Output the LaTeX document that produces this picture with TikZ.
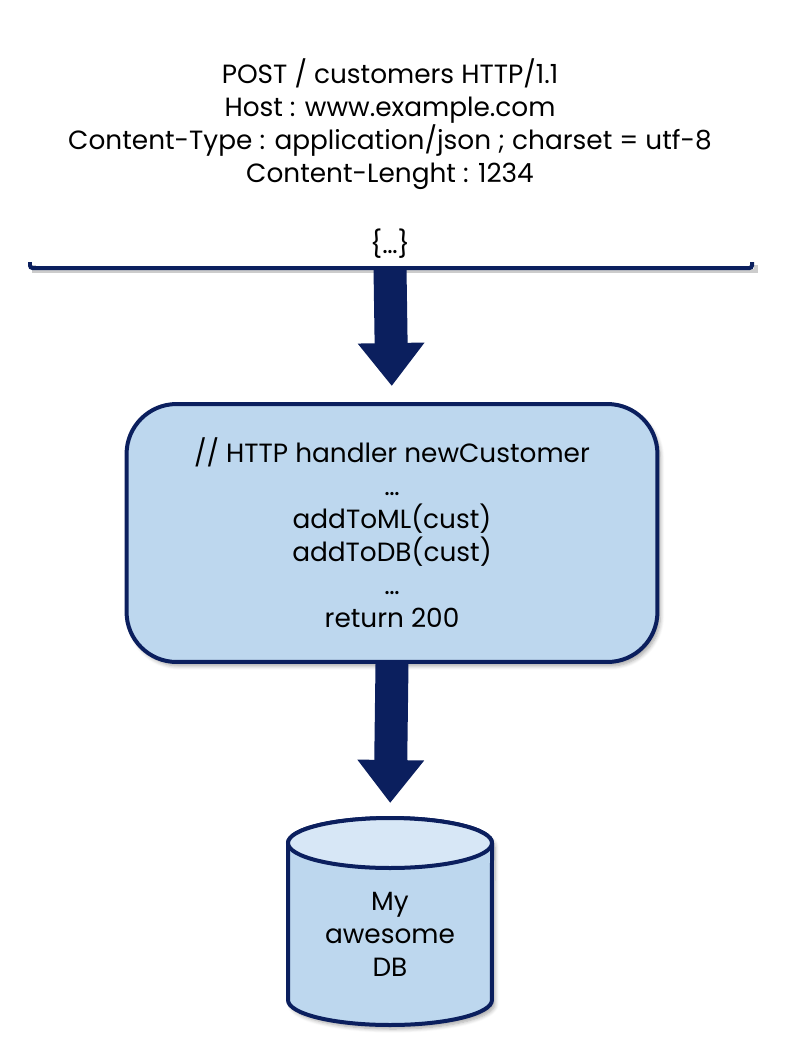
\documentclass[tikz,border=0pt]{standalone}
\usepackage{fontspec}
\setmainfont{Poppins}
\usepackage{xcolor}
\usepackage{tikz}
\usetikzlibrary{arrows.meta,positioning,calc,shadows.blur}

\definecolor{navy}{HTML}{0B1F5E}
\definecolor{boxblue}{HTML}{BDD7EE}
\definecolor{topblue}{HTML}{D7E7F6}

\begin{document}
\begin{tikzpicture}[x=0.02cm, y=-0.02cm,
    txt/.style={align=center, font=\fontsize{15}{18.8}\selectfont},
    soft/.style={blur shadow={shadow xshift=0.6mm, shadow yshift=-0.8mm, shadow opacity=35, shadow blur steps=6}},
    outline/.style={draw=navy, line width=0.08cm},
    handler/.style={outline, fill=boxblue, rounded corners=1cm,
        minimum width=10.62cm, minimum height=5.16cm, txt, soft},
    flow/.style={-{Triangle[width=1.28cm, length=0.86cm]}, line width=0.66cm, draw=navy}]

    \useasboundingbox (0,0) rectangle (800,1062);

    % Database drum
    \draw[outline, fill=boxblue, soft] (288,843) -- (288,1000)
        arc[start angle=180, end angle=360, x radius=2.04cm, y radius=0.5cm] -- (492,843)
        arc[start angle=0, end angle=180, x radius=2.04cm, y radius=0.5cm] -- cycle;
    \draw[outline, fill=topblue] (390,843) ellipse [x radius=2.04cm, y radius=0.5cm];
    \coordinate (dbtop) at (390,818);

    % Nodes
    \node[txt] (request) at (390,124) {POST / customers HTTP/1.1\\Host : www.example.com\\Content-Type : application/json ; charset = utf-8\\Content-Lenght : 1234};
    \node[txt] (payload) at (390,244) {\{…\}};
    \coordinate (bar) at (390,268);
    \node[handler] (newcust) at (392,533) {// HTTP handler newCustomer\\…\\addToML(cust)\\addToDB(cust)\\…\\return 200};
    \node[txt] (db) at (390,934) {My\\awesome\\DB};

    % Body bracket
    \draw[black!20, line width=0.08cm] (34,265) -- (34,271) -- (756,271) -- (756,265);
    \draw[navy, line width=0.08cm, rounded corners=0.05cm] (30,262) -- (30,268) -- (752,268) -- (752,262);

    % Flows
    \draw[flow, shorten >=0.32cm] (bar) -- (newcust.north);
    \draw[flow, shorten >=0.3cm] (newcust.south) -- (dbtop);

\end{tikzpicture}
\end{document}
